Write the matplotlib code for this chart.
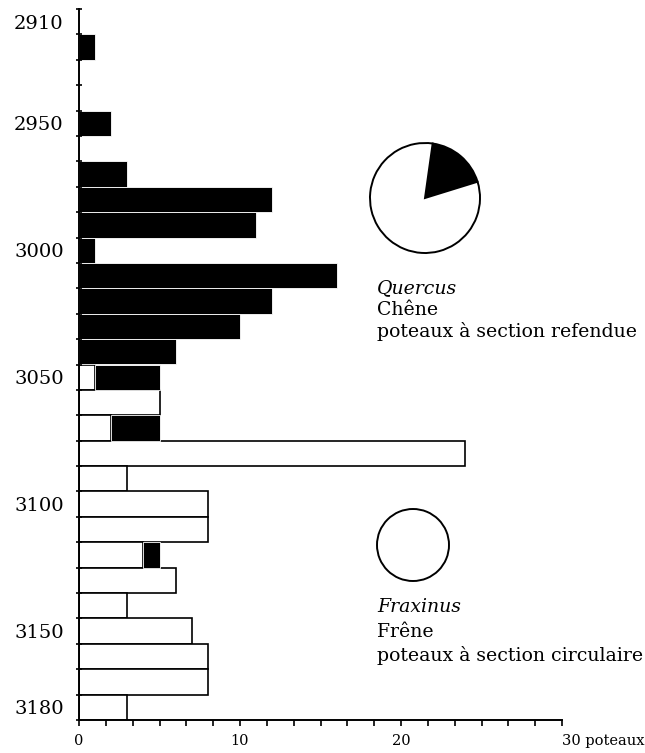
import numpy as np
import matplotlib
matplotlib.use("Agg")
import matplotlib.pyplot as plt

plt.rcParams['font.family'] = ['DejaVu Serif']

# ---- data ----
years = list(range(2910, 3181, 10))
quercus = [0, 1, 0, 0, 2, 0, 3, 12, 11, 1, 16, 12, 10, 6,
           4, 0, 3, 0, 0, 0, 0, 1, 0, 0, 0, 0, 0, 0]
fraxinus = [0, 0, 0, 0, 0, 0, 0, 0, 0, 0, 0, 0, 0, 0,
            1, 5, 2, 24, 3, 8, 8, 4, 6, 3, 7, 8, 8, 3]
ytick_years = [2910, 2950, 3000, 3050, 3100, 3150, 3180]
xtick_vals = [0, 10, 20, 30]
xtick_labels = ['0', '10', '20', '30 poteaux']
quercus_pie = [18, 82]      # black share / rest
fraxinus_pie = [100]
quercus_text = ["Quercus", "Chêne", "poteaux à section refendue"]
fraxinus_text = ["Fraxinus", "Frêne", "poteaux à section circulaire"]

W, H = 645, 753
fig = plt.figure(figsize=(W / 100, H / 100), dpi=100)
fig.patch.set_facecolor('white')

ax = fig.add_axes([79 / W, 1 - 720 / H, (562 - 79) / W, (720 - 9) / H])

y = np.array(years)
q = np.array(quercus)
f = np.array(fraxinus)

mf = f > 0
ax.barh(y[mf], f[mf], height=10, left=0, color='white',
        edgecolor='black', linewidth=1.2, zorder=1)
mq = q > 0
ax.barh(y[mq], q[mq], height=10, left=f[mq], color='black',
        edgecolor='white', linewidth=0.6, zorder=1.5)

ax.set_xlim(0, 30)
ax.set_ylim(3185, 2905)

for s in ['top', 'right']:
    ax.spines[s].set_visible(False)
for s in ['left', 'bottom']:
    ax.spines[s].set_linewidth(1.4)

ax.set_yticks(ytick_years)
ax.set_yticks(np.arange(2905, 3186, 10), minor=True)
ax.tick_params(axis='y', which='major', length=0, pad=11, labelsize=14)
ax.tick_params(axis='y', which='minor', length=5, width=1.2, direction='inout')

ax.set_xticks(xtick_vals, labels=xtick_labels)
ax.set_xticks(np.arange(0, 30.001, 10 / 6), minor=True)
ax.tick_params(axis='x', which='both', length=4, width=1.2, direction='out')
ax.tick_params(axis='x', which='major', pad=6, labelsize=10.5)
lbls = ax.get_xticklabels()
lbls[-1].set_horizontalalignment('left')
lbls[-1].set_x(30)


def pie_axes(cx, cy, r):
    m = 1.05
    return fig.add_axes([(cx - r * m) / W, 1 - (cy + r * m) / H,
                         2 * r * m / W, 2 * r * m / H])


pa = pie_axes(425, 198, 55)
pa.pie(quercus_pie, colors=['black', 'white'], startangle=82,
       counterclock=False, radius=1,
       wedgeprops=dict(edgecolor='black', linewidth=1.4))
pa.set_xlim(-1.05, 1.05)
pa.set_ylim(-1.05, 1.05)
pa.set_axis_off()

pb = pie_axes(413, 545, 36)
pb.pie(fraxinus_pie, colors=['white'], radius=1,
       wedgeprops=dict(edgecolor='black', linewidth=1.4))
pb.set_xlim(-1.05, 1.05)
pb.set_ylim(-1.05, 1.05)
pb.set_axis_off()


def block(lines, x, ys):
    for i, (t, yy) in enumerate(zip(lines, ys)):
        fig.text(x / W, 1 - yy / H, t, fontsize=13.6, va='baseline', ha='left',
                 style='italic' if i == 0 else 'normal')


block(quercus_text, 377, [293, 315, 337])
block(fraxinus_text, 377, [612, 637, 661])

fig.savefig('out.png', dpi=100, facecolor='white')
